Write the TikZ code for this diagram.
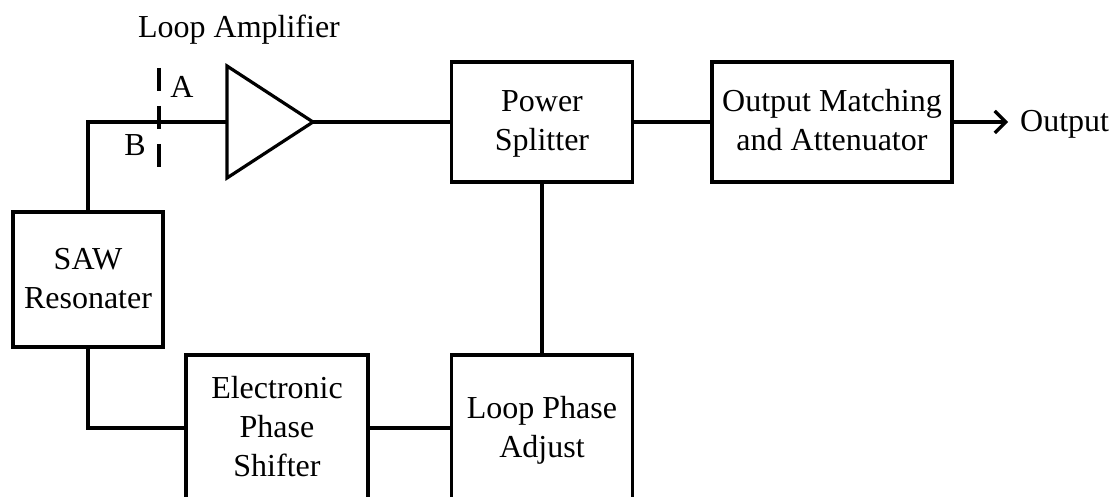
\documentclass[tikz,border=0pt]{standalone}
\usepackage{fontspec}
\setmainfont{Liberation Serif}
\usetikzlibrary{arrows.meta}
\newcommand{\ls}{\rule[-10pt]{0pt}{39pt}}
\tikzset{
  blockbox/.style={draw=black,line width=3.2pt,align=center,inner sep=0pt,minimum width=#1,font=\fontsize{32}{39}\selectfont},
  wire/.style={draw=black,line width=3.2pt,line cap=butt,line join=miter},
  lbl/.style={inner sep=0pt,font=\fontsize{32}{39}\selectfont,anchor=base},
  cutline/.style={draw=black,line width=3.2pt,dash pattern=on 23pt off 15pt}
}
\begin{document}
\begin{tikzpicture}[x=1pt,y=-1pt]
\useasboundingbox (0,0) rectangle (1116,497);
\clip (0,0) rectangle (1116,497);
% blocks (centre, width, height in reference pixels)
\node[blockbox=181pt,minimum height=120pt] (split) at (542,122) {\ls Power\\\ls Splitter};
\node[blockbox=240pt,minimum height=120pt] (match) at (832,122) {\ls Output Matching\\\ls and Attenuator};
\node[blockbox=150pt,minimum height=135pt] (saw) at (88,279.5) {\ls SAW\\\ls Resonater};
\node[blockbox=182pt,minimum height=146pt] (eps) at (277,428) {\ls Electronic\\\ls Phase\\\ls Shifter};
\node[blockbox=181pt,minimum height=146pt] (lpa) at (542,428) {\ls Loop Phase\\\ls Adjust};
% amplifier
\coordinate (ampW) at (227,122);
\coordinate (ampE) at (313,122);
\draw[wire] (227,66) -- (ampE) -- (227,178) -- cycle;
% cut line
\coordinate (cutT) at (159,68);
\coordinate (cutB) at (159,168);
\draw[cutline] (cutT) -- (cutB);
% labels
\node[lbl] (loop) at (239,38) {Loop Amplifier};
\node[lbl] (labA) at (182,98) {A};
\node[lbl] (labB) at (135,156) {B};
\node[lbl,anchor=base west] (out) at (1020,132) {Output};
\coordinate (outEnd) at (1008,122);
% connectors
\draw[wire] (saw.north) -- (88,122) -- (ampW);
\draw[wire] (ampE) -- (split.west);
\draw[wire] (split.east) -- (match.west);
\draw[wire,-{Straight Barb[length=11pt,width=22pt,line width=3.2pt]}] (match.east) -- (outEnd);
\draw[wire] (split.south) -- (lpa.north);
\draw[wire] (lpa.west) -- (eps.east);
\draw[wire] (eps.west) -| (saw.south);
\end{tikzpicture}
\end{document}
